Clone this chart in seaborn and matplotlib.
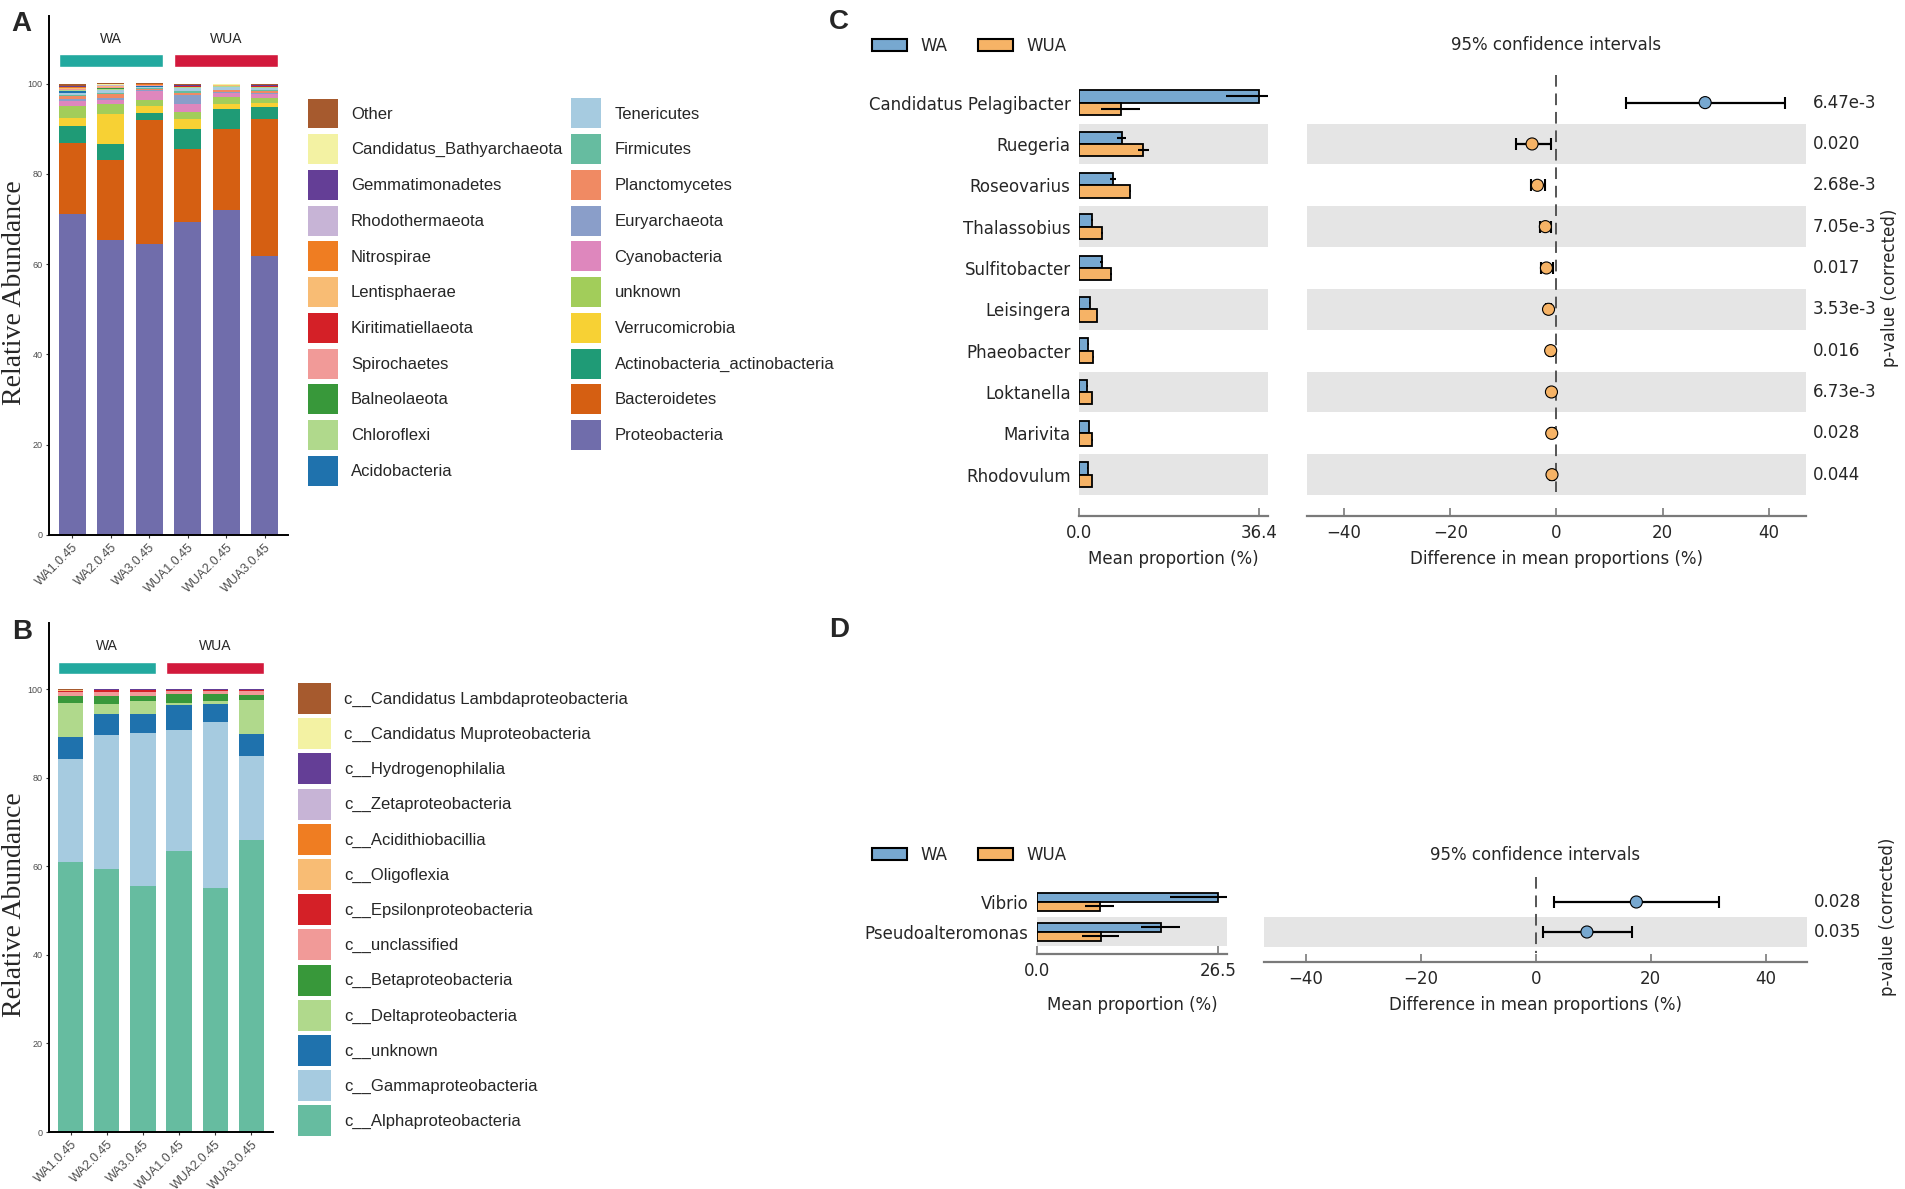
import numpy as np
import pandas as pd
import matplotlib
matplotlib.use("Agg")
import matplotlib.pyplot as plt
import seaborn as sns
from matplotlib.patches import Patch
from matplotlib.transforms import blended_transform_factory

sns.set_style("white")
plt.rcParams["font.family"] = ["DejaVu Sans"]

# ---------------- data ----------------
samples = ["WA1.0.45", "WA2.0.45", "WA3.0.45", "WUA1.0.45", "WUA2.0.45", "WUA3.0.45"]
sample_groups = ["WA", "WA", "WA", "WUA", "WUA", "WUA"]
groups = ["WA", "WUA"]
group_colors = ["#22a99f", "#d2193c"]

# panel A (phylum), bottom -> top of the stack
phyla = ["Proteobacteria", "Bacteroidetes", "Actinobacteria_actinobacteria", "Verrucomicrobia",
         "unknown", "Cyanobacteria", "Euryarchaeota", "Planctomycetes", "Firmicutes",
         "Tenericutes", "Acidobacteria", "Chloroflexi", "Balneolaeota", "Spirochaetes",
         "Kiritimatiellaeota", "Lentisphaerae", "Nitrospirae", "Rhodothermaeota",
         "Gemmatimonadetes", "Candidatus_Bathyarchaeota", "Other"]
phyla_colors = ["#706dab", "#d55f12", "#1f9b76", "#f7d134", "#a2cd5a", "#de87bd", "#8a9ec9",
                "#f08a63", "#66bca0", "#a6cbe0", "#1f72ad", "#b0d98c", "#38983a", "#f19a98",
                "#d42027", "#f8bc74", "#ef7d22", "#c7b4d6", "#643e96", "#f3f2a3", "#a65a2e"]
phyla_values = [
    [71.2, 65.4, 64.5, 69.3, 72.1, 61.8],
    [15.6, 17.7, 27.5, 16.3, 17.8, 30.3],
    [3.9, 3.5, 1.5, 4.4, 4.5, 2.7],
    [1.8, 6.6, 1.5, 2.1, 1.1, 0.9],
    [2.5, 2.2, 1.3, 1.7, 1.6, 1.1],
    [1.1, 1.0, 2.0, 1.7, 0.9, 1.0],
    [0.6, 0.5, 0.2, 2.0, 0.2, 0.2],
    [0.6, 0.8, 0.3, 0.5, 0.3, 0.4],
    [0.3, 0.3, 0.2, 0.3, 0.2, 0.2],
    [0.4, 0.5, 0.3, 0.7, 0.5, 0.4],
    [0.3, 0.2, 0.1, 0.1, 0.1, 0.1],
    [0.2, 0.2, 0.1, 0.1, 0.1, 0.1],
    [0.1, 0.1, 0.05, 0.05, 0.05, 0.05],
    [0.2, 0.2, 0.1, 0.1, 0.1, 0.1],
    [0.1, 0.1, 0.05, 0.05, 0.05, 0.05],
    [0.2, 0.2, 0.1, 0.1, 0.05, 0.1],
    [0.1, 0.1, 0.05, 0.05, 0.05, 0.05],
    [0.1, 0.1, 0.05, 0.05, 0.05, 0.05],
    [0.1, 0.1, 0.05, 0.05, 0.05, 0.05],
    [0.1, 0.1, 0.05, 0.05, 0.05, 0.05],
    [0.5, 0.2, 0.2, 0.3, 0.1, 0.3],
]

# panel B (class), bottom -> top
classes = ["c__Alphaproteobacteria", "c__Gammaproteobacteria", "c__unknown",
           "c__Deltaproteobacteria", "c__Betaproteobacteria", "c__unclassified",
           "c__Epsilonproteobacteria", "c__Oligoflexia", "c__Acidithiobacillia",
           "c__Zetaproteobacteria", "c__Hydrogenophilalia", "c__Candidatus Muproteobacteria",
           "c__Candidatus Lambdaproteobacteria"]
class_colors = ["#66bca0", "#a6cbe0", "#1f72ad", "#b0d98c", "#38983a", "#f19a98", "#d42027",
                "#f8bc74", "#ef7d22", "#c7b4d6", "#643e96", "#f3f2a3", "#a65a2e"]
class_values = [
    [61.0, 59.4, 55.6, 63.6, 55.2, 65.9],
    [23.3, 30.2, 34.6, 27.3, 37.4, 19.1],
    [5.0, 4.8, 4.2, 5.6, 4.2, 5.0],
    [7.6, 2.4, 3.0, 0.4, 0.5, 7.5],
    [1.5, 1.8, 1.2, 2.0, 1.6, 1.3],
    [1.1, 0.9, 0.7, 0.8, 0.8, 0.9],
    [0.2, 0.3, 0.5, 0.1, 0.1, 0.1],
    [0.05, 0.05, 0.05, 0.05, 0.05, 0.05],
    [0.05, 0.05, 0.05, 0.05, 0.05, 0.05],
    [0.05, 0.05, 0.05, 0.05, 0.05, 0.05],
    [0.05, 0.05, 0.05, 0.05, 0.05, 0.05],
    [0.05, 0.05, 0.05, 0.05, 0.05, 0.05],
    [0.05, 0.05, 0.05, 0.05, 0.05, 0.05],
]

# panel C (STAMP, genus)
genera_c = ["Candidatus Pelagibacter", "Ruegeria", "Roseovarius", "Thalassobius", "Sulfitobacter",
            "Leisingera", "Phaeobacter", "Loktanella", "Marivita", "Rhodovulum"]
wa_mean_c = [36.4, 8.6, 6.9, 2.7, 4.6, 2.2, 1.9, 1.7, 2.0, 1.8]
wa_sd_c = [6.6, 1.0, 0.6, 0.2, 0.3, 0.1, 0.05, 0.05, 0.05, 0.1]
wua_mean_c = [8.4, 13.0, 10.4, 4.6, 6.4, 3.6, 2.9, 2.6, 2.7, 2.6]
wua_sd_c = [4.0, 1.1, 0.1, 0.2, 0.2, 0.05, 0.1, 0.05, 0.1, 0.05]
diff_c = [28.0, -4.6, -3.6, -2.1, -1.9, -1.5, -1.1, -0.95, -0.9, -0.85]
ci_low_c = [13.1, -7.7, -4.8, -3.1, -3.0, -1.9, -1.5, -1.3, -1.2, -1.2]
ci_high_c = [43.1, -1.1, -2.2, -1.1, -0.65, -1.1, -0.6, -0.6, -0.5, -0.5]
pvals_c = ["6.47e-3", "0.020", "2.68e-3", "7.05e-3", "0.017", "3.53e-3", "0.016", "6.73e-3",
           "0.028", "0.044"]

# panel D
genera_d = ["Vibrio", "Pseudoalteromonas"]
wa_mean_d = [26.5, 18.1]
wa_sd_d = [7.0, 2.9]
wua_mean_d = [9.2, 9.3]
wua_sd_d = [2.1, 2.65]
diff_d = [17.5, 8.9]
ci_low_d = [3.2, 1.2]
ci_high_d = [31.9, 16.8]
pvals_d = ["0.028", "0.035"]

stamp_colors = ["#77a8d0", "#f6b366"]
band_color = "#e5e5e5"
spine_gray = "#7a7a7a"

# ---------------- figure ----------------
W, H = 1906, 1189
fig = plt.figure(figsize=(W / 100, H / 100), dpi=100)


def add_ax(l, t, r, b):
    return fig.add_axes([l / W, 1 - b / H, (r - l) / W, (b - t) / H])


def fx(px):
    return px / W


def fy(py):
    return 1 - py / H


def stacked_panel(ax, colors, values, gb_bottom, gb_height, gtext_y):
    cum = np.cumsum(np.array(values), axis=0)
    for k in range(len(values) - 1, -1, -1):
        sns.barplot(x=samples, y=cum[k], color=colors[k], width=0.7, saturation=1,
                    linewidth=0, ax=ax)
    ax.set_xlim(-0.6, 5.6)
    ax.set_ylim(0, 115)
    ax.set_yticks([0, 20, 40, 60, 80, 100])
    for s in ["top", "right"]:
        ax.spines[s].set_visible(False)
    for s in ["left", "bottom"]:
        ax.spines[s].set_color("black")
        ax.spines[s].set_linewidth(1.4)
    ax.tick_params(axis="y", labelsize=6.5, labelcolor="#4d4d4d", length=2.5, width=0.8,
                   color="#333333", left=True, pad=2)
    ax.tick_params(axis="x", labelsize=9, labelcolor="#4d4d4d", length=2.5, width=0.8,
                   color="#333333", bottom=True, pad=2)
    for lab in ax.get_xticklabels():
        lab.set_rotation(45)
        lab.set_ha("right")
        lab.set_rotation_mode("anchor")
        lab.set_family("Liberation Sans")
    for lab in ax.get_yticklabels():
        lab.set_family("Liberation Sans")
    ax.set_xlabel("")
    ax.set_ylabel("")
    for g, col in zip(groups, group_colors):
        idx = [i for i, sg in enumerate(sample_groups) if sg == g]
        left, right = min(idx) - 0.35, max(idx) + 0.35
        ax.bar((left + right) / 2, gb_height, width=right - left, bottom=gb_bottom,
               color=col, clip_on=False)
        ax.text((left + right) / 2, gtext_y, g, ha="center", va="center", fontsize=10,
                family="Liberation Sans")


def column_legend(labels, colors, x, y, hh, hl, spacing):
    fig.legend(handles=[Patch(facecolor=c, edgecolor="none") for c in colors], labels=labels,
               loc="upper left", bbox_to_anchor=(fx(x), fy(y)), frameon=False, borderpad=0,
               borderaxespad=0, handlelength=hl, handleheight=hh, handletextpad=0.78,
               labelspacing=spacing, prop={"family": "Liberation Sans", "size": 12})


def style_bottom(ax):
    for s in ["top", "right", "left"]:
        ax.spines[s].set_visible(False)
    ax.spines["bottom"].set_color(spine_gray)
    ax.spines["bottom"].set_linewidth(1.6)
    ax.tick_params(axis="x", direction="in", length=5.5, width=1.2, color=spine_gray,
                   labelsize=12, pad=6, bottom=True)


def stamp_panel(names, wa_m, wa_s, wua_m, wua_s, diff, lo, hi, pv, bar_box, ci_box,
                ylim_bar, ylim_ci, dash_end, ci_lim, title_y, xlabel_y, plabel_xy,
                legend_y):
    n = len(names)
    rows = np.arange(n)
    axb = add_ax(*bar_box)
    df = pd.DataFrame({"genus": names * 2,
                       "group": ["WA"] * n + ["WUA"] * n,
                       "mean": wa_m + wua_m})
    for i in rows:
        if i % 2 == 1:
            axb.axhspan(i - 0.49, i + 0.49, color=band_color, zorder=0, lw=0)
    sns.barplot(data=df, x="mean", y="genus", hue="group", hue_order=groups,
                palette=stamp_colors, orient="h", width=0.6, saturation=1,
                edgecolor="black", linewidth=1.3, errorbar=None, legend=False, ax=axb)
    axb.errorbar(wa_m, rows - 0.15, xerr=wa_s, fmt="none", ecolor="black",
                 elinewidth=1.5, capsize=0, zorder=4)
    axb.errorbar(wua_m, rows + 0.15, xerr=wua_s, fmt="none", ecolor="black",
                 elinewidth=1.5, capsize=0, zorder=4)
    axb.set_xlim(0, max(wa_m) * 1.05)
    axb.set_ylim(*ylim_bar)
    axb.set_xticks([0, max(wa_m)])
    axb.set_xticklabels([f"{v:.1f}" for v in [0, max(wa_m)]])
    axb.set_xlabel("")
    axb.set_ylabel("")
    style_bottom(axb)
    axb.tick_params(axis="y", length=0, labelsize=12, pad=6)

    axc = add_ax(*ci_box)
    for i in rows:
        if i % 2 == 1:
            axc.axhspan(i - 0.49, i + 0.49, color=band_color, zorder=0, lw=0)
    axc.vlines(0, ylim_ci[1], dash_end, colors="#555555", linestyles=(0, (6, 3.5)),
               linewidth=1.4, zorder=1)
    axc.errorbar(diff, rows, xerr=[np.subtract(diff, lo), np.subtract(hi, diff)], fmt="none",
                 ecolor="black", elinewidth=1.6, capsize=4.3, capthick=1.5, zorder=2)
    sns.scatterplot(x=diff, y=rows, hue=["WA" if d > 0 else "WUA" for d in diff],
                    hue_order=groups, palette=stamp_colors, s=75, edgecolor="black",
                    linewidth=0.8, legend=False, zorder=3, ax=axc)
    axc.set_xlim(*ci_lim)
    axc.set_ylim(*ylim_ci)
    axc.set_xticks([-40, -20, 0, 20, 40])
    axc.set_yticks([])
    style_bottom(axc)
    tr = blended_transform_factory(axc.transAxes, axc.transData)
    for r, p in zip(rows, pv):
        axc.annotate(p, xy=(1, r), xycoords=tr, xytext=(5, 0), textcoords="offset points",
                     ha="left", va="center", fontsize=12)

    fig.text(fx((ci_box[0] + ci_box[2]) / 2), fy(title_y), "95% confidence intervals",
             ha="center", va="center", fontsize=12)
    fig.text(fx((bar_box[0] + bar_box[2]) / 2), fy(xlabel_y), "Mean proportion (%)",
             ha="center", va="center", fontsize=12)
    fig.text(fx((ci_box[0] + ci_box[2]) / 2), fy(xlabel_y),
             "Difference in mean proportions (%)", ha="center", va="center", fontsize=12)
    fig.text(fx(plabel_xy[0]), fy(plabel_xy[1]), "p-value (corrected)", rotation=90,
             ha="center", va="center", fontsize=12)
    fig.legend(handles=[Patch(facecolor=c, edgecolor="black", linewidth=1.5)
                        for c in stamp_colors],
               labels=groups, ncol=2, loc="center left",
               bbox_to_anchor=(fx(872), fy(legend_y)), frameon=False, borderpad=0,
               borderaxespad=0, handlelength=2.1, handleheight=0.75, handletextpad=0.78,
               columnspacing=1.86, fontsize=12)


# ---- panel A ----
axA = add_ax(49, 16, 288, 535)
stacked_panel(axA, phyla_colors, phyla_values, 103.7, 2.8, 110.0)
rev_labels = phyla[::-1]
rev_colors = phyla_colors[::-1]
column_legend(rev_labels[:11], rev_colors[:11], 307.6, 98.5, 2.39, 1.83, 0.345)
column_legend(rev_labels[11:], rev_colors[11:], 571, 98.5, 2.39, 1.83, 0.345)
fig.text(fx(15), fy(293), "Relative Abundance", rotation=90, ha="center", va="center",
         fontsize=20, family="Liberation Serif")

# ---- panel B ----
axB = add_ax(49, 623, 273, 1132)
stacked_panel(axB, class_colors, class_values, 103.4, 2.7, 109.8)
column_legend(classes[::-1], class_colors[::-1], 298, 683, 2.48, 1.98, 0.255)
fig.text(fx(15), fy(905), "Relative Abundance", rotation=90, ha="center", va="center",
         fontsize=20, family="Liberation Serif")

# ---- panel C ----
stamp_panel(genera_c, wa_mean_c, wa_sd_c, wua_mean_c, wua_sd_c, diff_c, ci_low_c, ci_high_c,
            pvals_c, bar_box=(1079, 75, 1268, 516), ci_box=(1307, 75, 1806, 516),
            ylim_bar=(10.0, -0.668), ylim_ci=(10.0, -0.668), dash_end=9.42,
            ci_lim=(-47, 47), title_y=45, xlabel_y=559, plabel_xy=(1890, 288), legend_y=46)

# ---- panel D ----
stamp_panel(genera_d, wa_mean_d, wa_sd_d, wua_mean_d, wua_sd_d, diff_d, ci_low_d, ci_high_d,
            pvals_d, bar_box=(1037, 877, 1227, 954), ci_box=(1264, 877, 1807, 962),
            ylim_bar=(1.753, -0.833), ylim_ci=(2.0, -0.833), dash_end=1.71,
            ci_lim=(-47.3, 47.2), title_y=855, xlabel_y=1005, plabel_xy=(1888, 917),
            legend_y=855)

# panel letters
for letter, (px, py) in zip("ABCD", [(21, 24), (22, 632), (839, 22), (839, 630)]):
    fig.text(fx(px), fy(py), letter, ha="center", va="center", fontsize=20,
             fontweight="bold", family="Liberation Sans")

fig.savefig("out.png", dpi=100)
